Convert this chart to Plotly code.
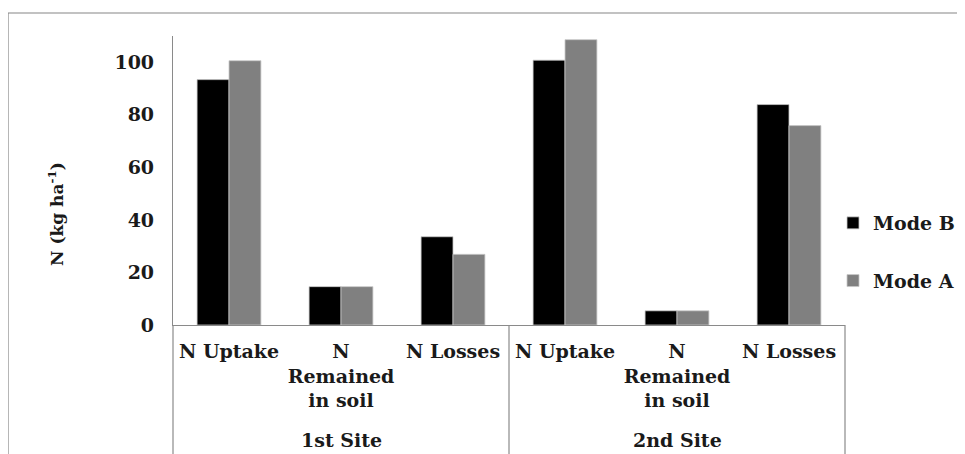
import plotly.graph_objects as go

sites = ["1st Site", "1st Site", "1st Site", "2nd Site", "2nd Site", "2nd Site"]
categories = ["N Uptake", "N<br>Remained<br>in soil", "N Losses",
              "N Uptake", "N<br>Remained<br>in soil", "N Losses"]
mode_b = [93.4, 14.6, 33.6, 100.8, 5.4, 83.9]
mode_a = [100.6, 14.6, 26.9, 108.6, 5.4, 75.9]
y_ticks = [0, 20, 40, 60, 80, 100]

keys = [f"{s}|{c}" for s, c in zip(sites, categories)]

# page body adds an 8px offset; figure sized to fit the window
W, H = 957, 446
ML, MR, MT, MB = 165, 120, 28, 129
PW, PH = W - ML - MR, H - MT - MB

FONT = "DejaVu Serif"
FS = 19
AX = "#8a8a8a"
TXT = "#1a1a1a"

fig = go.Figure()
fig.add_trace(go.Bar(x=keys, y=mode_b, name="Mode B", legendgroup="b",
                     marker=dict(color="#000000", line=dict(color="#c8c8c8", width=0.8))))
fig.add_trace(go.Bar(x=keys, y=mode_a, name="Mode A", legendgroup="a",
                     marker=dict(color="#808080", line=dict(color="#c8c8c8", width=0.8))))

def px_x(p):
    return (p - ML) / PW

def px_y(p):
    return (H - MB - p) / PH

shapes = [
    dict(type="rect", xref="paper", yref="paper", x0=px_x(0), x1=px_x(W + 20),
         y0=px_y(5), y1=px_y(H + 20), line=dict(color="#868686", width=1.2),
         fillcolor="rgba(0,0,0,0)", layer="below"),
]
for xp in [0, 0.5, 1]:
    shapes.append(dict(type="line", xref="paper", yref="paper", x0=xp, x1=xp,
                       y0=0, y1=px_y(H + 20), line=dict(color=AX, width=1.2)))

annotations = []
mid_keys = [keys[1], keys[4]]
for k, s in zip(mid_keys, ["1st Site", "2nd Site"]):
    annotations.append(dict(x=k, xref="x", y=px_y(432), yref="paper", text=s,
                            showarrow=False, yanchor="middle", xanchor="center",
                            font=dict(family=FONT, size=FS, color=TXT, weight="bold")))
annotations.append(dict(x=px_x(48), xref="paper", y=px_y(206), yref="paper",
                        text="N (kg ha<sup>-1</sup>)", textangle=-90, showarrow=False,
                        xanchor="center", yanchor="middle",
                        font=dict(family=FONT, size=FS - 2, color=TXT, weight="bold")))

fig.update_layout(
    width=W, height=H,
    margin=dict(l=ML, r=MR, t=MT, b=MB, pad=0, autoexpand=False),
    paper_bgcolor="white", plot_bgcolor="white",
    barmode="group", bargap=0.43, bargroupgap=0,
    showlegend=True,
    legend=dict(x=px_x(825), xanchor="left", y=px_y(244), yanchor="middle",
                tracegroupgap=30, itemwidth=30, bgcolor="rgba(0,0,0,0)",
                font=dict(family=FONT, size=FS, color=TXT, weight="bold")),
    shapes=shapes,
    annotations=annotations,
    xaxis=dict(type="category", tickvals=keys, ticktext=categories,
               showline=True, linecolor=AX, linewidth=1.2, ticks="",
               showgrid=False, zeroline=False, ticklabelstandoff=9,
               tickfont=dict(family=FONT, size=FS, color=TXT, weight="bold")),
    yaxis=dict(range=[0, 110], tickvals=y_ticks, showline=True, linecolor=AX, linewidth=1.2,
               ticks="", showgrid=False, zeroline=False, ticklabelstandoff=14,
               tickfont=dict(family=FONT, size=FS, color=TXT, weight="bold")),
)

fig.write_html("out.html")
